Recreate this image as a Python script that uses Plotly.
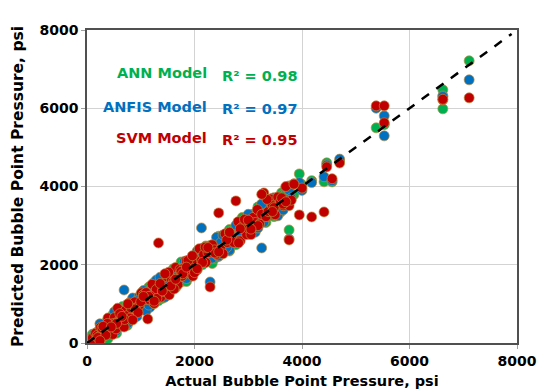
import plotly.graph_objects as go

# Actual bubble point pressure (psi), shared by the three models
actual = [
    100, 130, 160, 190, 220, 250, 270, 300, 330, 360,
    390, 420, 450, 480, 510, 540, 570, 600, 630, 660,
    690, 720, 750, 780, 810, 850, 890, 930, 970, 1010,
    1050, 1090, 1130, 1170, 1210, 1250, 1290, 1330, 1370, 1410,
    1450, 1490, 1530, 1570, 1610, 1650, 1690, 1730, 1770, 1810,
    1850, 1890, 1930, 1970, 2010, 2050, 2090, 2130, 2170, 2210,
    2250, 2290, 2330, 2370, 2410, 2450, 2490, 2530, 2570, 2610,
    2650, 2690, 2730, 2770, 2810, 2850, 2890, 2930, 2970, 3010,
    3050, 3090, 3130, 3170, 3210, 3250, 3290, 3330, 3370, 3410,
    3450, 3500, 3550, 3600, 3650, 3700, 3760, 3760, 3950, 4000,
    4180, 4410, 4460, 4560, 4700, 5380, 5530, 5530, 6620, 6620, 7110,
    200, 280, 350, 460, 520, 610, 700, 820, 900, 1000,
    1100, 1180, 1300, 1400, 1520, 1620, 1750, 1880, 2000, 2150,
    240, 380, 550, 760, 950, 1150, 1360, 1560, 1780, 1960,
    2200, 2380, 2600, 2820, 3000, 3180, 3350, 3480, 3620, 3800,
    300, 450, 650, 850, 1050, 1250, 1450, 1650, 1850, 2050,
    2250, 2450, 2650, 2850, 3050, 3250, 3450, 3650, 3850, 3700,
]

pred_ann = [
    225, 90, 175, 60, 290, 160, 430, 290, 375, 285,
    110, 540, 400, 720, 340, 580, 730, 500, 620, 930,
    570, 920, 450, 840, 780, 1130, 690, 1080, 910, 1120,
    1110, 870, 1310, 1180, 1070, 1550, 1200, 1080, 1590, 1370,
    1640, 1510, 1370, 1500, 1900, 1410, 1770, 1960, 1570, 1720,
    1570, 2010, 1880, 2210, 1840, 2090, 2250, 2030, 2160, 2480,
    2130, 2490, 2030, 2430, 2380, 2730, 2290, 2680, 2510, 2720,
    2900, 2610, 2760, 2510, 2950, 2670, 3210, 2910, 3060, 2860,
    3110, 2870, 3310, 3180, 3070, 3550, 3200, 3080, 3590, 3370,
    3700, 3420, 3580, 3340, 3790, 3520, 4015, 2890, 4322, 4050,
    4150, 4120, 4604, 4117, 4650, 5499, 5600, 5580, 6471, 5985, 7212,
    295, 290, 270, 425, 665, 490, 740, 935, 800, 955,
    1350, 1100, 1330, 1140, 1660, 1440, 2070, 1860, 2090, 2000,
    120, 580, 250, 820, 920, 1430, 1160, 1710, 1720, 2070,
    2260, 2160, 2780, 2830, 2860, 3480, 3260, 3230, 3840, 3760,
    160, 510, 625, 970, 880, 1270, 1610, 1550, 1840, 2320,
    2130, 2650, 2350, 2910, 3020, 3530, 3250, 3800, 3790, 3810,
]

pred_anfis = [
    40, 230, 10, 220, 205, 390, 170, 375, 300, 415,
    580, 440, 290, 410, 800, 300, 650, 830, 430, 570,
    1355, 500, 930, 790, 670, 1150, 800, 680, 1190, 970,
    1300, 1010, 1160, 910, 1350, 1070, 1610, 1310, 1460, 1260,
    1170, 1610, 1480, 1810, 1440, 1690, 1850, 1630, 1760, 2080,
    1910, 1670, 2110, 1980, 1870, 2350, 2000, 2941, 2390, 2170,
    2440, 1560, 2170, 2300, 2700, 2210, 2570, 2760, 2370, 2520,
    2370, 2810, 2680, 3010, 2640, 2890, 3050, 2830, 2960, 3280,
    2930, 3290, 2830, 3230, 3180, 2430, 3090, 3480, 3310, 3520,
    3330, 3700, 3250, 3660, 3620, 3980, 2660, 3910, 4100, 3900,
    4100, 4250, 4550, 4150, 4700, 6000, 5806, 5294, 6317, 6300, 6726,
    230, 170, 440, 465, 450, 760, 655, 695, 1010, 980,
    820, 1300, 1250, 1640, 1350, 1660, 1910, 1780, 1990, 2420,
    490, 300, 580, 500, 1090, 970, 1680, 1540, 1870, 1810,
    2390, 2400, 2440, 2750, 3290, 2940, 3430, 3710, 3420, 3710,
    395, 460, 490, 780, 1340, 1010, 1530, 1880, 1650, 1960,
    2310, 2230, 2830, 2860, 2910, 3550, 3360, 3400, 4070, 3660,
]

pred_svm = [
    130, 20, 250, 195, 150, 400, 225, 175, 440, 340,
    640, 340, 480, 220, 650, 360, 890, 580, 720, 510,
    410, 840, 700, 1020, 640, 890, 1050, 830, 960, 1280,
    1240, 1110, 614, 1100, 1500, 1010, 1370, 2558, 1170, 1320,
    1330, 1690, 1230, 1630, 1580, 1930, 1490, 1880, 1710, 1920,
    2100, 1810, 1960, 1710, 2150, 1870, 2410, 2110, 2260, 2060,
    2310, 1432, 2510, 2380, 2270, 3325, 2400, 2280, 2790, 2570,
    2840, 2710, 2570, 3632, 3100, 2610, 2970, 3160, 2770, 2920,
    2770, 3210, 3080, 3410, 3040, 3290, 3836, 3230, 3360, 3680,
    3510, 3280, 3730, 3610, 3510, 4000, 2634, 3510, 3274, 3960,
    3222, 3350, 4501, 4200, 4600, 6061, 6061, 5627, 6215, 6230, 6266,
    140, 380, 200, 490, 505, 750, 600, 895, 870, 1055,
    1290, 1200, 1140, 1330, 1810, 1380, 1830, 2110, 1800, 2060,
    60, 500, 500, 1000, 780, 1190, 1520, 1460, 1770, 2230,
    2450, 2300, 2630, 2560, 3140, 3000, 3670, 3460, 3710, 3650,
    425, 410, 680, 590, 1190, 1070, 1770, 1630, 1940, 1900,
    2440, 2330, 2830, 2920, 2910, 3800, 3360, 3550, 4060, 3610,
]

series_names = ["ANN Model", "ANFIS Model", "SVM Model"]
r2_values = ["0.98", "0.97", "0.95"]
colors = ["#00B050", "#0070C0", "#C00000"]
ideal_line = [0, 7900]
tick_vals = [0, 2000, 4000, 6000, 8000]
tick_text = ["<b>0</b>", "<b>2000</b>", "<b>4000</b>", "<b>6000</b>", "<b>8000</b>"]

fig = go.Figure()
for name, pred, col in zip(series_names, [pred_ann, pred_anfis, pred_svm], colors):
    fig.add_trace(go.Scatter(
        x=actual, y=pred, mode="markers", name=name,
        marker=dict(size=10, color=col,
                    line=dict(color="rgba(190,140,60,0.85)", width=0.8)),
        showlegend=False,
    ))

fig.add_trace(go.Scatter(
    x=ideal_line, y=ideal_line, mode="lines",
    line=dict(color="black", width=2.5, dash="dash"),
    showlegend=False,
))

font_family = "DejaVu Sans"
label_y = [6905, 6036, 5243]
r2_y = [6829, 5985, 5192]
for name, r2, col, ly, ry in zip(series_names, r2_values, colors, label_y, r2_y):
    fig.add_annotation(x=2270, y=ly, xref="x", yref="y", text=f"<b>{name}</b>",
                       showarrow=False, xanchor="right", yanchor="middle",
                       font=dict(family=font_family, size=14.5, color=col))
    fig.add_annotation(x=2480, y=ry, xref="x", yref="y", text=f"<b>R² = {r2}</b>",
                       showarrow=False, xanchor="left", yanchor="middle",
                       font=dict(family=font_family, size=14.5, color=col))

axis_common = dict(
    range=[0, 8000], tickvals=tick_vals, ticktext=tick_text,
    showgrid=True, gridcolor="#d3d3d3", gridwidth=1,
    showline=True, linecolor="#505050", linewidth=1.5, mirror=True,
    ticks="outside", ticklen=4, tickcolor="#a0a0a0",
    zeroline=False, automargin=False,
    tickfont=dict(family=font_family, size=14, color="black"),
)

fig.update_layout(
    width=539, height=391,
    margin=dict(l=87, r=22, t=30, b=48),
    paper_bgcolor="white", plot_bgcolor="white",
    xaxis=dict(**axis_common,
               title=dict(text="<b>Actual Bubble Point Pressure, psi</b>",
                          font=dict(family=font_family, size=14.5, color="black"),
                          standoff=8)),
    yaxis=dict(**axis_common,
               title=dict(text="<b>Predicted Bubble Point Pressure, psi</b>",
                          font=dict(family=font_family, size=15.5, color="black"),
                          standoff=12)),
)

fig.write_html("out.html", config={"displayModeBar": False},
               post_script="document.body.style.margin='0';")
